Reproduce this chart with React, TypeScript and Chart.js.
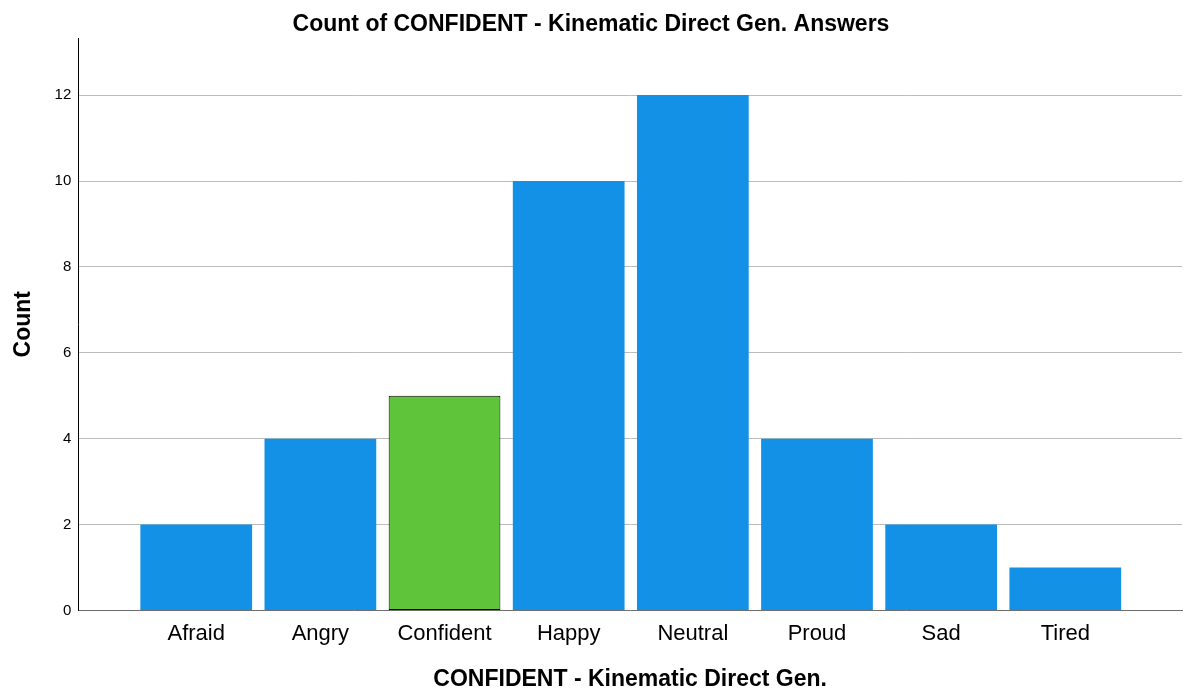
import React, { useEffect, useRef } from "react";
import { Chart, registerables } from "chart.js";

Chart.register(...registerables);

const categories = ["Afraid", "Angry", "Confident", "Happy", "Neutral", "Proud", "Sad", "Tired"];
const counts = [2, 4, 5, 10, 12, 4, 2, 1];
const barColors = ["#1391e6", "#1391e6", "#5fc43a", "#1391e6", "#1391e6", "#1391e6", "#1391e6", "#1391e6"];
const barBorderWidths = [0, 0, 1, 0, 0, 0, 0, 0];
const yTicks = [0, 2, 4, 6, 8, 10, 12];

const FONT = "Arial, 'Liberation Sans', Helvetica, sans-serif";

export default function App() {
  const ref = useRef<HTMLCanvasElement | null>(null);

  useEffect(() => {
    document.body.style.margin = "0";
    document.body.style.background = "#ffffff";
    const canvas = ref.current;
    if (!canvas) return;
    const chart = new Chart(canvas, {
      type: "bar",
      data: {
        datasets: [
          {
            data: counts.map((v, i) => ({ x: i, y: v })),
            backgroundColor: barColors,
            borderColor: "#000000",
            borderWidth: barBorderWidths,
            borderSkipped: false,
            barPercentage: 0.9,
            categoryPercentage: 1,
          },
        ],
      },
      options: {
        responsive: false,
        animation: false,
        devicePixelRatio: 1,
        layout: { padding: { left: 0, right: 5, top: 0, bottom: 0 } },
        plugins: {
          legend: { display: false },
          tooltip: { enabled: false },
          title: {
            display: true,
            text: "Count of CONFIDENT - Kinematic Direct Gen. Answers",
            color: "#000000",
            font: { family: FONT, size: 23, weight: "bold", lineHeight: 1.2 },
            padding: { top: 10.4, bottom: 0 },
          },
        },
        scales: {
          x: {
            type: "linear",
            min: -0.95,
            max: 7.94,
            offset: false,
            afterBuildTicks: (scale: any) => {
              scale.ticks = categories.map((_, i) => ({ value: i }));
            },
            grid: { display: false, drawTicks: false },
            border: { display: true, color: "#6e6e6e", width: 1 },
            ticks: {
              autoSkip: false,
              maxRotation: 0,
              padding: 10.5,
              color: "#000000",
              font: { family: FONT, size: 22, lineHeight: 1.2 },
              callback: (v: any) => categories[v] ?? "",
            },
            title: {
              display: true,
              text: "CONFIDENT - Kinematic Direct Gen.",
              color: "#000000",
              font: { family: FONT, size: 23, weight: "bold", lineHeight: 1.2 },
              padding: { top: 7.5, bottom: 0 },
            },
          },
          y: {
            min: 0,
            max: 13.33,
            afterBuildTicks: (scale: any) => {
              scale.ticks = yTicks.map((v) => ({ value: v }));
            },
            grid: {
              drawTicks: false,
              color: (ctx: any) => (ctx.tick && ctx.tick.value === 0 ? "rgba(0,0,0,0)" : "#bcbcbc"),
              lineWidth: 1,
            },
            border: { display: true, color: "#000000", width: 1 },
            ticks: {
              padding: 7,
              color: "#000000",
              font: { family: FONT, size: 15, lineHeight: 1.2 },
            },
            title: {
              display: true,
              text: "Count",
              color: "#000000",
              font: { family: FONT, size: 23, weight: "bold", lineHeight: 1.2 },
              padding: { top: 9.5, bottom: 10.5 },
            },
          },
        },
      } as any,
    });
    return () => chart.destroy();
  }, []);

  return (
    <div style={{ width: 1187, height: 693, background: "#ffffff" }}>
      <canvas ref={ref} width={1187} height={693} />
    </div>
  );
}
